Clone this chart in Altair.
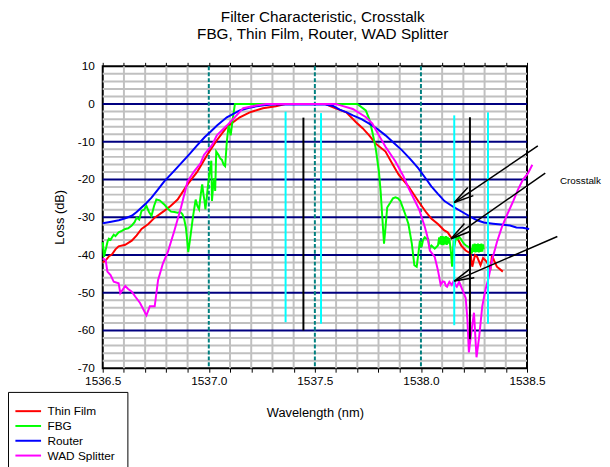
import math
import altair as alt
import pandas as pd

# ---------------- data ----------------
X0, X1 = 1536.5, 1538.5
Y0, Y1 = -70, 10
W, H = 430, 306

series_names = ["Thin Film", "FBG", "Router", "WAD Splitter"]
series_colors = ["#ff0000", "#00ff00", "#0000ff", "#ff00ff"]

thin_wl = [1536.500, 1536.514, 1536.530, 1536.544, 1536.560, 1536.575, 1536.606, 1536.637, 1536.660, 1536.683,
           1536.715, 1536.745, 1536.790, 1536.820, 1536.853, 1536.900, 1536.946, 1536.992, 1537.038, 1537.085,
           1537.146, 1537.193, 1537.255, 1537.316, 1537.360, 1537.550, 1537.586, 1537.620, 1537.648, 1537.694,
           1537.725, 1537.756, 1537.787, 1537.833, 1537.865, 1537.895, 1537.941, 1537.987, 1538.026, 1538.050,
           1538.080, 1538.110, 1538.126, 1538.142, 1538.160, 1538.173, 1538.190, 1538.211, 1538.234, 1538.242,
           1538.255, 1538.265, 1538.281, 1538.293, 1538.304, 1538.318, 1538.327, 1538.335, 1538.345, 1538.358,
           1538.386]
thin_loss = [-42.0, -41.4, -40.3, -39.8, -38.5, -37.7, -37.3, -36.2, -34.8, -33.1,
             -31.8, -30.1, -28.3, -27.0, -25.3, -21.3, -17.9, -13.5, -9.6, -6.1,
             -3.5, -2.2, -1.1, -0.6, 0.0, 0.0, -0.9, -1.6, -2.2, -4.8,
             -6.4, -8.3, -10.5, -12.6, -15.8, -18.7, -21.8, -25.7, -28.8, -30.4,
             -31.8, -33.5, -34.0, -35.3, -35.4, -35.7, -37.5, -38.8, -39.6, -43.1,
             -40.0, -40.5, -42.7, -40.8, -41.4, -42.5, -44.0, -40.1, -41.5, -43.1,
             -44.4]

fbg_wl = [1536.500, 1536.506, 1536.512, 1536.517, 1536.523, 1536.529, 1536.537, 1536.544, 1536.552, 1536.560,
          1536.575, 1536.590, 1536.606, 1536.620, 1536.637, 1536.650, 1536.660, 1536.672, 1536.683, 1536.695,
          1536.706, 1536.718, 1536.730, 1536.742, 1536.753, 1536.768, 1536.790, 1536.805, 1536.822, 1536.838,
          1536.853, 1536.866, 1536.876, 1536.884, 1536.892, 1536.898, 1536.903, 1536.910, 1536.915, 1536.925,
          1536.938, 1536.946, 1536.954, 1536.962, 1536.969, 1536.975, 1536.980, 1536.984, 1536.990, 1536.995,
          1537.001, 1537.007, 1537.012, 1537.015, 1537.020, 1537.026, 1537.030, 1537.035, 1537.046, 1537.054,
          1537.062, 1537.070, 1537.077, 1537.085, 1537.093, 1537.103, 1537.113, 1537.123, 1537.700, 1537.740,
          1537.756, 1537.771, 1537.787, 1537.802, 1537.810, 1537.818, 1537.826, 1537.833, 1537.841, 1537.856,
          1537.868, 1537.880, 1537.892, 1537.903, 1537.915, 1537.926, 1537.941, 1537.957, 1537.969, 1537.980,
          1537.988, 1537.995, 1538.003, 1538.010, 1538.018, 1538.026, 1538.034, 1538.042, 1538.050, 1538.065,
          1538.080, 1538.086, 1538.090, 1538.094, 1538.098, 1538.102, 1538.106, 1538.110, 1538.114, 1538.118,
          1538.122, 1538.126, 1538.130, 1538.134, 1538.142, 1538.147, 1538.154, 1538.160, 1538.165, 1538.173,
          1538.180, 1538.188, 1538.196, 1538.203, 1538.211, 1538.219, 1538.227, 1538.234, 1538.240, 1538.245,
          1538.249, 1538.253, 1538.257, 1538.261, 1538.265, 1538.269, 1538.273, 1538.277, 1538.281, 1538.285,
          1538.289, 1538.293, 1538.296]
fbg_loss = [-36.6, -40.5, -39.0, -37.9, -36.4, -35.7, -36.0, -35.3, -34.6, -35.0,
            -34.0, -33.6, -33.1, -32.9, -32.2, -31.3, -30.1, -30.6, -28.3, -28.0,
            -27.0, -28.6, -29.6, -27.0, -25.3, -25.5, -26.6, -27.6, -28.5, -28.6,
            -28.8, -28.6, -29.2, -30.5, -32.7, -36.0, -39.2, -36.5, -34.4, -30.0,
            -25.3, -27.0, -27.9, -24.0, -21.3, -24.0, -25.7, -27.9, -25.0, -22.2,
            -19.2, -17.0, -15.0, -25.7, -22.0, -19.6, -23.0, -12.6, -13.5, -14.4,
            -14.8, -16.1, -16.5, -10.0, -5.7, -8.3, -3.9, 0.0, 0.0, -1.7,
            -3.9, -7.4, -11.8, -17.9, -23.1, -30.1, -37.0, -32.7, -27.4, -26.1,
            -25.0, -24.7, -25.0, -25.7, -27.5, -29.2, -31.8, -37.0, -42.7, -43.1,
            -39.6, -36.2, -37.9, -36.0, -35.3, -35.7, -35.7, -38.3, -37.5, -38.3,
            -37.5, -35.3, -37.2, -35.0, -37.3, -35.0, -37.4, -35.1, -37.2, -35.0,
            -37.3, -35.2, -37.0, -35.5, -39.6, -43.1, -36.2, -37.0, -35.3, -35.8,
            -35.2, -35.7, -36.5, -37.0, -37.4, -37.7, -38.0, -38.3, -39.6, -37.2,
            -39.2, -37.0, -39.3, -37.1, -39.2, -37.0, -39.3, -37.1, -39.2, -37.0,
            -39.1, -37.2, -38.5]

router_wl = [1536.500, 1536.540, 1536.576, 1536.610, 1536.637, 1536.660, 1536.683, 1536.706, 1536.730, 1536.760,
             1536.790, 1536.830, 1536.869, 1536.910, 1536.946, 1536.980, 1537.007, 1537.040, 1537.085, 1537.146,
             1537.190, 1537.224, 1537.260, 1537.300, 1537.550, 1537.586, 1537.617, 1537.650, 1537.679, 1537.720,
             1537.756, 1537.795, 1537.833, 1537.870, 1537.910, 1537.950, 1537.987, 1538.026, 1538.049, 1538.080,
             1538.111, 1538.157, 1538.195, 1538.234, 1538.265, 1538.296, 1538.340, 1538.389, 1538.420, 1538.450,
             1538.480, 1538.510]
router_loss = [-31.6, -31.2, -30.8, -30.2, -29.6, -28.6, -27.4, -26.2, -24.8, -22.7,
               -20.5, -18.1, -15.7, -13.2, -10.9, -8.8, -7.4, -5.6, -3.5, -1.7,
               -1.0, -0.6, -0.3, -0.1, -0.1, -0.5, -1.5, -2.2, -3.0, -4.0,
               -5.2, -6.6, -8.3, -10.2, -12.2, -14.6, -17.0, -20.0, -21.8, -23.8,
               -25.7, -27.4, -28.6, -29.9, -30.8, -31.4, -31.7, -32.0, -32.2, -32.7,
               -32.8, -33.1]

wad_wl = [1536.500, 1536.514, 1536.522, 1536.537, 1536.552, 1536.575, 1536.583, 1536.606, 1536.620, 1536.637,
          1536.653, 1536.676, 1536.706, 1536.722, 1536.745, 1536.761, 1536.784, 1536.807, 1536.838, 1536.869,
          1536.900, 1536.930, 1536.961, 1536.977, 1537.015, 1537.038, 1537.085, 1537.131, 1537.162, 1537.224,
          1537.270, 1537.600, 1537.617, 1537.679, 1537.741, 1537.771, 1537.802, 1537.833, 1537.880, 1537.918,
          1537.941, 1537.972, 1537.992, 1538.018, 1538.030, 1538.042, 1538.065, 1538.080, 1538.093, 1538.103,
          1538.111, 1538.118, 1538.123, 1538.134, 1538.145, 1538.157, 1538.163, 1538.169, 1538.180, 1538.195,
          1538.211, 1538.219, 1538.226, 1538.237, 1538.250, 1538.262, 1538.275, 1538.289, 1538.304, 1538.320,
          1538.335, 1538.358, 1538.381, 1538.404, 1538.435, 1538.458, 1538.481, 1538.505, 1538.525]
wad_loss = [-40.9, -41.4, -44.4, -45.3, -47.1, -47.5, -50.1, -48.2, -49.0, -49.7,
            -51.0, -52.7, -56.0, -53.6, -53.6, -46.6, -42.2, -39.2, -33.5, -27.4,
            -20.5, -17.9, -15.7, -13.5, -10.9, -8.3, -5.7, -3.0, -1.1, -0.4,
            0.0, 0.0, -0.3, -1.3, -3.5, -5.2, -8.3, -11.3, -15.2, -19.2,
            -22.2, -25.7, -28.0, -32.5, -35.0, -38.8, -40.5, -44.0, -47.9, -47.0,
            -47.1, -48.2, -48.4, -47.1, -47.9, -46.6, -48.0, -48.4, -47.1, -49.2,
            -51.4, -57.1, -65.8, -60.6, -55.3, -67.1, -61.4, -53.6, -49.2, -45.8,
            -41.4, -36.6, -32.7, -29.6, -25.7, -22.6, -20.0, -18.3, -16.1]

# marker lines (cyan / black verticals)
vline_wl = [1537.362, 1537.446, 1537.529, 1538.157, 1538.231, 1538.316]
vline_top = [-2.0, -3.6, -2.4, -3.0, -3.5, -2.2]
vline_bottom = [-57.8, -60.0, -58.2, -58.6, -62.3, -58.2]
vline_color = ["#00ffff", "#000000", "#00ffff", "#00ffff", "#000000", "#00ffff"]

# arrows
arrow_tail_wl = [1538.551, 1538.586, 1538.643]
arrow_tail_loss = [-11.1, -18.3, -35.1]
arrow_tip_wl = [1538.157, 1538.142, 1538.157]
arrow_tip_loss = [-26.1, -35.7, -46.9]
annot_text = ["Crosstalk"]
annot_wl = [1538.655]
annot_loss = [-20.5]

# ticks / grid
x_ticks = [1536.5, 1536.6, 1536.7, 1536.8, 1536.9, 1537.0, 1537.1, 1537.2, 1537.3, 1537.4, 1537.5,
           1537.6, 1537.7, 1537.8, 1537.9, 1538.0, 1538.1, 1538.2, 1538.3, 1538.4, 1538.5]
x_minor_grid = [1536.6, 1536.7, 1536.8, 1536.9, 1537.1, 1537.2, 1537.3, 1537.4,
                1537.6, 1537.7, 1537.8, 1537.9, 1538.1, 1538.2, 1538.3, 1538.4]
x_dashed = [1537.0, 1537.5, 1538.0]
y_ticks = [10, 0, -10, -20, -30, -40, -50, -60, -70]
y_tick_labels = ["10", "0", "-10", "-20", "-30", "-40", "-50", "-60", "-70"]
y_title = "Loss (dB)"
y_major_grid = [0, -10, -20, -30, -40, -50, -60]
y_minor_grid = [8, 6, 4, 2, -2, -4, -6, -8, -12, -14, -16, -18, -22, -24, -26, -28,
                -32, -34, -36, -38, -42, -44, -46, -48, -52, -54, -56, -58, -62, -64, -66, -68]

# ---------------- build tables ----------------
rows = []
for name, wls, ls in [("Thin Film", thin_wl, thin_loss), ("FBG", fbg_wl, fbg_loss),
                      ("Router", router_wl, router_loss), ("WAD Splitter", wad_wl, wad_loss)]:
    assert len(wls) == len(ls), name
    for i, (w, l) in enumerate(zip(wls, ls)):
        rows.append({"series": name, "wl": w, "loss": l, "i": i})
curves = pd.DataFrame(rows)

px_per_x = W / (X1 - X0)
px_per_y = H / (Y1 - Y0)
angles = []
for tx, ty, hx, hy in zip(arrow_tail_wl, arrow_tail_loss, arrow_tip_wl, arrow_tip_loss):
    dx = (hx - tx) * px_per_x
    dy = -(hy - ty) * px_per_y
    angles.append(math.degrees(math.atan2(dy, dx)) % 360)
arrows = pd.DataFrame({"tx": arrow_tail_wl, "ty": arrow_tail_loss,
                       "wl": arrow_tip_wl, "loss": arrow_tip_loss, "ang": angles})

FONT = "Liberation Sans"
xs = alt.Scale(domain=[X0, X1], nice=False, zero=False)
ys = alt.Scale(domain=[Y0, Y1], nice=False, zero=False)

label_expr = "abs(datum.value*2 - round(datum.value*2)) < 0.001 ? format(datum.value, '.1f') : ''"

# y axis: ticks from the axis, labels + title as text marks placed through the y scale
y_axis = alt.Axis(orient="left", values=y_ticks, labels=False, tickSize=5, tickColor="black",
                  tickWidth=2, domain=False, grid=False)

gy = alt.Chart(pd.DataFrame({"loss": y_minor_grid})).mark_rule(color="#c0c0c0", strokeWidth=2).encode(
    y=alt.Y("loss:Q", scale=ys, title="", axis=y_axis))
gx = alt.Chart(pd.DataFrame({"wl": x_minor_grid})).mark_rule(color="#c0c0c0", strokeWidth=2).encode(
    x=alt.X("wl:Q", scale=xs, axis=None))
navy = alt.Chart(pd.DataFrame({"loss": y_major_grid})).mark_rule(color="#000080", strokeWidth=2).encode(
    y=alt.Y("loss:Q", scale=ys, axis=None))
teal = alt.Chart(pd.DataFrame({"wl": x_dashed})).mark_rule(
    color="#008080", strokeWidth=2, strokeDash=[4, 2]).encode(
    x=alt.X("wl:Q", scale=xs, title="",
            axis=alt.Axis(orient="top", values=x_ticks, labels=False, ticks=True, tickSize=4,
                          tickColor="black", tickWidth=1, domain=False, grid=False)))

lines = alt.Chart(curves).mark_line(strokeWidth=2, clip=False).encode(
    x=alt.X("wl:Q", scale=xs, title="Wavelength (nm)",
            axis=alt.Axis(orient="bottom", values=x_ticks, labelExpr=label_expr, tickSize=4,
                          tickColor="black", tickWidth=1, domain=False, grid=False, labelFontSize=12,
                          labelColor="black", labelPadding=3, titleFontSize=13, titleFontWeight="normal",
                          titleColor="black", titlePadding=21, labelFlush=False, labelOverlap=False)),
    y=alt.Y("loss:Q", scale=ys, axis=None),
    color=alt.Color("series:N", scale=alt.Scale(domain=series_names, range=series_colors),
                    legend=alt.Legend(orient="none", legendX=-96, legendY=330, title=None,
                                      strokeColor="black", fillColor="white", padding=12,
                                      symbolType="M-2,0L2,0", symbolSize=169, symbolStrokeWidth=2,
                                      symbolOffset=1, labelOffset=12, rowPadding=1,
                                      labelFontSize=12, labelColor="black", labelFont=FONT)),
    order=alt.Order("i:Q"),
)

ylabels = alt.Chart(pd.DataFrame({"loss": y_ticks, "t": y_tick_labels})).mark_text(
    align="right", baseline="middle", fontSize=12, font=FONT, color="black", dx=-8).encode(
    x=alt.value(0),
    y=alt.Y("loss:Q", scale=ys, axis=None),
    text="t:N")

ytitle = alt.Chart(pd.DataFrame({"loss": [(Y0 + Y1) / 2], "t": [y_title]})).mark_text(
    align="center", baseline="middle", fontSize=13, font=FONT, color="black", angle=270, dy=-43).encode(
    x=alt.value(0),
    y=alt.Y("loss:Q", scale=ys, axis=None),
    text="t:N")

vlines = alt.Chart(pd.DataFrame({"wl": vline_wl, "top": vline_top, "bot": vline_bottom, "c": vline_color})
                   ).mark_rule(strokeWidth=2).encode(
    x=alt.X("wl:Q", scale=xs, axis=None),
    y=alt.Y("top:Q", scale=ys, axis=None),
    y2="bot:Q",
    color=alt.Color("c:N", scale=None))

shafts = alt.Chart(arrows).mark_rule(color="black", strokeWidth=1.5).encode(
    x=alt.X("tx:Q", scale=xs, axis=None),
    y=alt.Y("ty:Q", scale=ys, axis=None),
    x2="wl:Q", y2="loss:Q")

heads = alt.Chart(arrows).mark_point(shape="M-1,-0.25L0,0L-1,0.25", filled=False, size=1600,
                                     color="black", strokeWidth=1.5, opacity=1).encode(
    x=alt.X("wl:Q", scale=xs, axis=None),
    y=alt.Y("loss:Q", scale=ys, axis=None),
    angle=alt.Angle("ang:Q", scale=None))

annot = alt.Chart(pd.DataFrame({"wl": annot_wl, "loss": annot_loss, "t": annot_text})).mark_text(
    align="left", baseline="middle", fontSize=10, font=FONT, color="black").encode(
    x=alt.X("wl:Q", scale=xs, axis=None),
    y=alt.Y("loss:Q", scale=ys, axis=None),
    text="t:N")

chart = alt.layer(gy, gx, navy, teal, lines, vlines, shafts, heads, annot, ylabels, ytitle).resolve_axis(
    x="independent").properties(
    width=W, height=H,
    padding={"left": 96, "top": 56, "right": 76, "bottom": 97},
    autosize=alt.AutoSizeParams(type="none"),
    title=alt.TitleParams(["Filter Characteristic, Crosstalk", "FBG, Thin Film, Router, WAD Splitter"],
                          fontSize=15.5, font=FONT, fontWeight="normal", color="black", anchor="middle",
                          frame="group", baseline="alphabetic", offset=6, lineHeight=17, dx=8),
).configure(font=FONT).configure_view(stroke="black", strokeWidth=2)

chart.save("out.html", embed_options={"renderer": "svg", "actions": False})
